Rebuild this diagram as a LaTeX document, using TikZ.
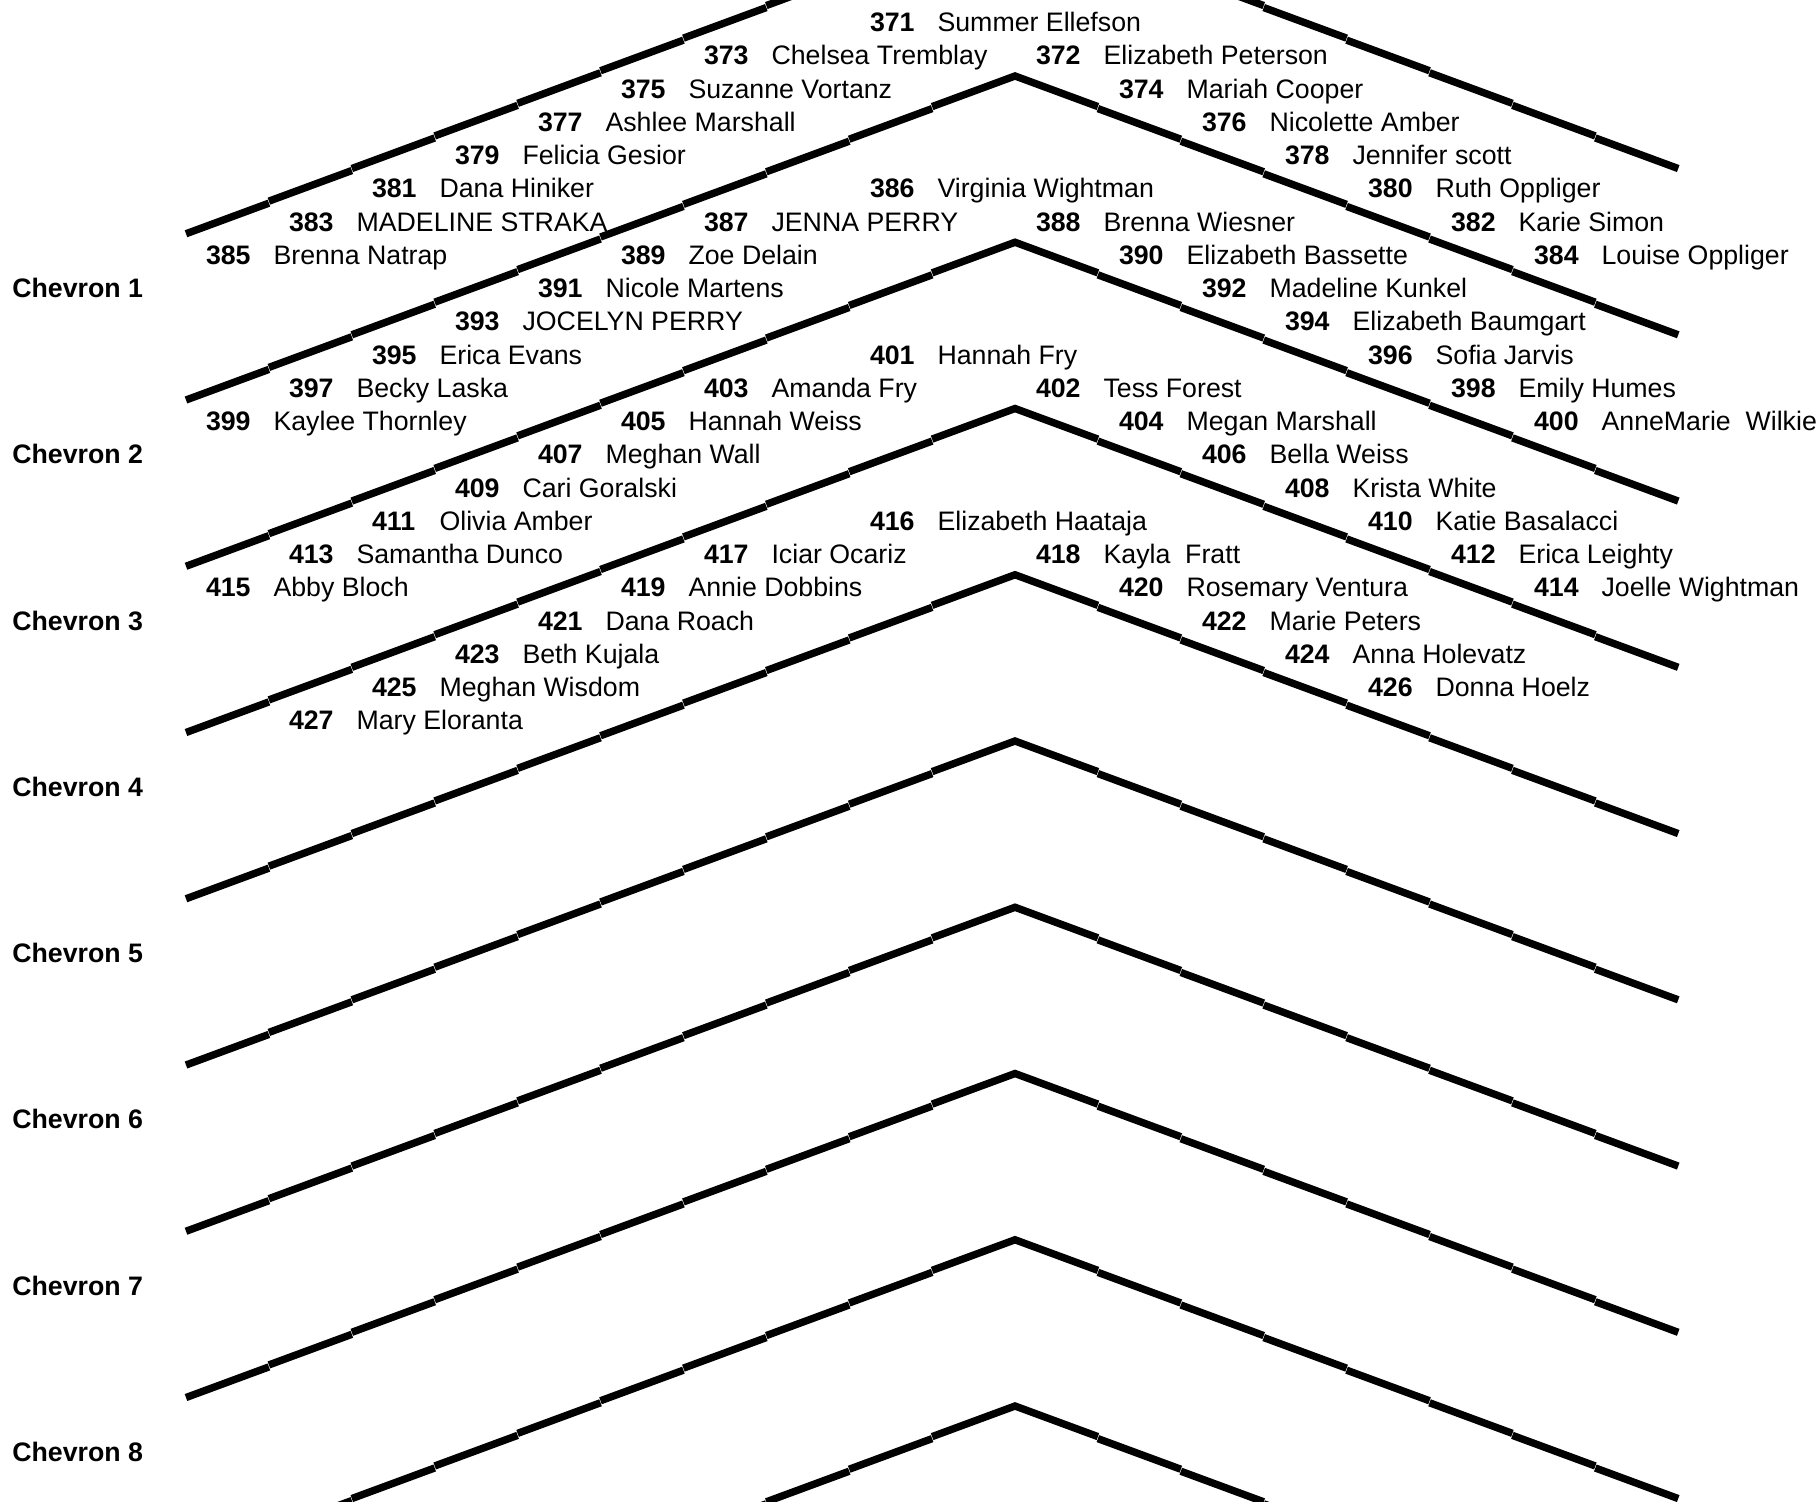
\documentclass[tikz,border=0pt]{standalone}
\usepackage{fontspec}
\setmainfont{Liberation Sans}
\usetikzlibrary{positioning}

\begin{document}
\begin{tikzpicture}[
	x=0.01cm, y=-0.01cm,
	font=\fontsize{7.6}{9}\selectfont,
	% Define styles
	numlabel/.style={anchor=base west, inner sep=0pt, font=\fontsize{7.6}{9}\selectfont\bfseries},
	namelabel/.style={anchor=base west, inner sep=0pt},
	chevlabel/.style={anchor=base west, inner sep=0pt, font=\fontsize{7.6}{9}\selectfont\bfseries},
	arm/.style={line width=2.1pt, line cap=butt, black},
	armtop/.style={arm, line join=miter}
	]
	\useasboundingbox (0,0) rectangle (1819,1506);
	\def\nudge{1.0}
	
	% 1. Chevron lines, one segment per step
	\begin{scope}
		\clip (0,0) rectangle (1819,1501);
		\foreach \k in {0,...,9} {
			\pgfmathsetmacro\ay{-91.25+166.25*\k}
			\coordinate (apex\k) at (1015,\ay);
			% left arm
			\foreach \j in {1,...,9}
				\draw[arm] ({1015-82.9*(\j+1)},{\ay+32.6*(\j+1)-\nudge}) -- ({1015-82.9*\j},{\ay+32.6*\j+\nudge});
			% right arm
			\foreach \j in {1,...,7}
				\draw[arm] ({1015+82.9*\j},{\ay+32.6*\j+\nudge}) -- ({1015+82.9*(\j+1)},{\ay+32.6*(\j+1)-\nudge});
			% top of the chevron
			\draw[armtop] ({1015-82.9},{\ay+32.6-\nudge}) -- ([yshift=-\nudge*0.01cm]apex\k) -- ({1015+82.9},{\ay+32.6-\nudge});
		}
	\end{scope}
	
	% 2. Chevron names
	\foreach \n in {1,...,8}
		\node[chevlabel] (chev\n) at (11.6,{31.6+33.25*(8+5*(\n-1))}) {Chevron \n};
	
	% 3. Numbers and names, column / row
	\foreach \c/\r/\num/\who in {
		8/0/371/Summer Ellefson,
		6/1/373/Chelsea Tremblay, 10/1/372/Elizabeth Peterson,
		5/2/375/Suzanne Vortanz, 11/2/374/Mariah Cooper,
		4/3/377/Ashlee Marshall, 12/3/376/Nicolette Amber,
		3/4/379/Felicia Gesior, 13/4/378/Jennifer scott,
		2/5/381/Dana Hiniker, 8/5/386/Virginia Wightman, 14/5/380/Ruth Oppliger,
		1/6/383/MADELINE STRAKA, 6/6/387/JENNA PERRY, 10/6/388/Brenna Wiesner, 15/6/382/Karie Simon,
		0/7/385/Brenna Natrap, 5/7/389/Zoe Delain, 11/7/390/Elizabeth Bassette, 16/7/384/Louise Oppliger,
		4/8/391/Nicole Martens, 12/8/392/Madeline Kunkel,
		3/9/393/JOCELYN PERRY, 13/9/394/Elizabeth Baumgart,
		2/10/395/Erica Evans, 8/10/401/Hannah Fry, 14/10/396/Sofia Jarvis,
		1/11/397/Becky Laska, 6/11/403/Amanda Fry, 10/11/402/Tess Forest, 15/11/398/Emily Humes,
		0/12/399/Kaylee Thornley, 5/12/405/Hannah Weiss, 11/12/404/Megan Marshall, 16/12/400/AnneMarie\ \ Wilkie,
		4/13/407/Meghan Wall, 12/13/406/Bella Weiss,
		3/14/409/Cari Goralski, 13/14/408/Krista White,
		2/15/411/Olivia Amber, 8/15/416/Elizabeth Haataja, 14/15/410/Katie Basalacci,
		1/16/413/Samantha Dunco, 6/16/417/Iciar Ocariz, 10/16/418/Kayla\ \ Fratt, 15/16/412/Erica Leighty,
		0/17/415/Abby Bloch, 5/17/419/Annie Dobbins, 11/17/420/Rosemary Ventura, 16/17/414/Joelle Wightman,
		4/18/421/Dana Roach, 12/18/422/Marie Peters,
		3/19/423/Beth Kujala, 13/19/424/Anna Holevatz,
		2/20/425/Meghan Wisdom, 14/20/426/Donna Hoelz,
		1/21/427/Mary Eloranta} {
		\node[numlabel] (num\num) at ({205.3+83*\c},{31.6+33.25*\r}) {\num};
		\node[namelabel] (who\num) at ([xshift=6.75mm]num\num.base west) {\who};
	}
\end{tikzpicture}
\end{document}
